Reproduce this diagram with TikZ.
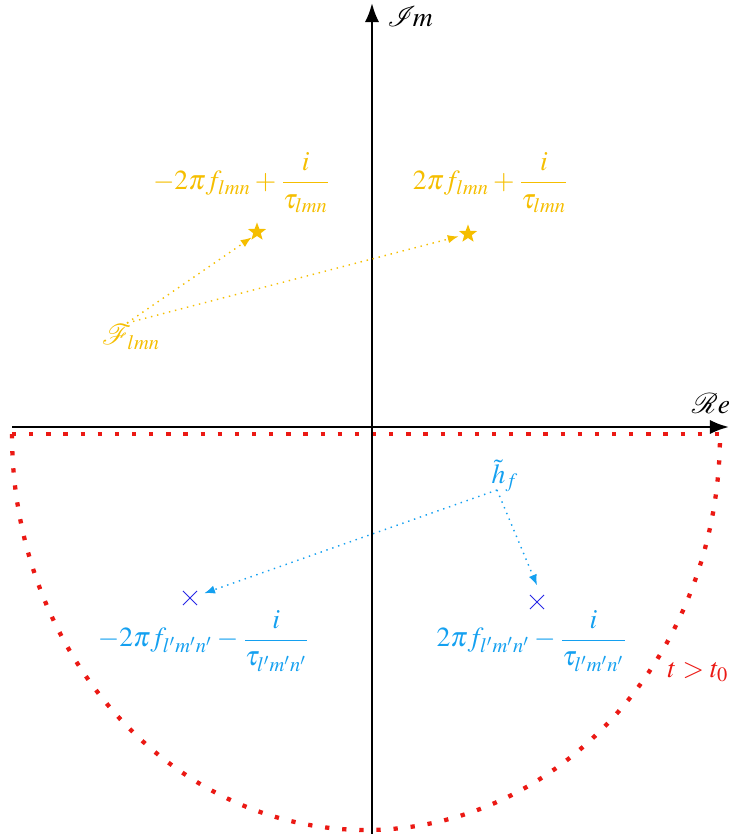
\documentclass[tikz,border=0pt]{standalone}
\usepackage{mathptmx}
\usepackage{mathrsfs}
\usepackage{amsmath}
\usetikzlibrary{arrows.meta,shapes.geometric,shapes.misc}
\definecolor{ylw}{RGB}{245,190,0}
\definecolor{cyb}{RGB}{20,160,240}
\definecolor{xblue}{RGB}{40,40,230}
\definecolor{rd}{RGB}{235,25,20}
\tikzset{
  axis/.style={line width=1.05pt,-{Latex[length=8pt,width=6pt]}},
  reddots/.style={rd,line width=1.8pt,dash pattern=on 1.8pt off 5.4pt},
  ylab/.style={text=ylw,inner sep=0pt},
  blab/.style={text=cyb,inner sep=0pt},
  yarr/.style={ylw,dotted,line width=0.6pt,-{Latex[length=4.5pt,width=3.5pt]}},
  barr/.style={cyb,dotted,line width=0.6pt,-{Latex[length=4.5pt,width=3.5pt]}},
  starmark/.style={star,star points=5,star point ratio=2.4,fill=ylw,draw=none,minimum size=8pt,inner sep=0pt},
  xmark/.style={cross out,draw=xblue,line width=0.4pt,minimum size=5.5pt,inner sep=0pt},
  every node/.style={font=\fontsize{11.6}{14}\selectfont},
}
\begin{document}
\begin{tikzpicture}[x=0.42pt,y=-0.42pt]
\useasboundingbox (0,0) rectangle (729,834);
% red contour
\draw[reddots] (12,434) -- (720,434);
\draw[reddots] (12,434) arc[start angle=180,end angle=360,x radius=354,y radius=-396];
% axes
\coordinate (xs) at (12,427);
\coordinate (xe) at (729,427);
\coordinate (ys) at (372,834);
\coordinate (ye) at (372,3);
\draw[axis] (xs) -- (xe);
\draw[axis] (ys) -- (ye);
\node[inner sep=0pt] (im) at (410,17) {$\mathscr{I}\!m$};
\node[inner sep=0pt] (re) at (711,404) {$\mathscr{R}e$};
% yellow poles
\node[starmark] (s1) at (257,232) {};
\node[starmark] (s2) at (468,234) {};
\node[ylab] (l1) at (242,183) {$\displaystyle -2\pi f_{lmn}+\frac{i}{\tau_{lmn}}$};
\node[ylab] (l2) at (491,183) {$\displaystyle 2\pi f_{lmn}+\frac{i}{\tau_{lmn}}$};
\node[ylab] (F) at (131,337) {$\mathscr{F}_{lmn}$};
\coordinate (Fo) at (127,323);
\draw[yarr] (Fo) -- (s1.south west);
\draw[yarr] (Fo) -- ([xshift=-4pt,yshift=-1pt]s2.center);
% blue poles
\node[xmark] (c1) at (190,598) {};
\node[xmark] (c2) at (537,602) {};
\node[blab] (l3) at (204,641) {$\displaystyle -2\pi f_{l'm'n'}-\frac{i}{\tau_{l'm'n'}}$};
\node[blab] (l4) at (532,641) {$\displaystyle 2\pi f_{l'm'n'}-\frac{i}{\tau_{l'm'n'}}$};
\node[blab] (h) at (505,476) {$\tilde{h}_f$};
\coordinate (ho) at (497,490);
\draw[barr] (ho) -- ([xshift=6pt,yshift=2pt]c1.center);
\draw[barr] (ho) -- ([yshift=7pt]c2.center);
% label
\node[text=rd,inner sep=0pt] (t) at (698,672) {$t>t_0$};
\end{tikzpicture}
\end{document}
